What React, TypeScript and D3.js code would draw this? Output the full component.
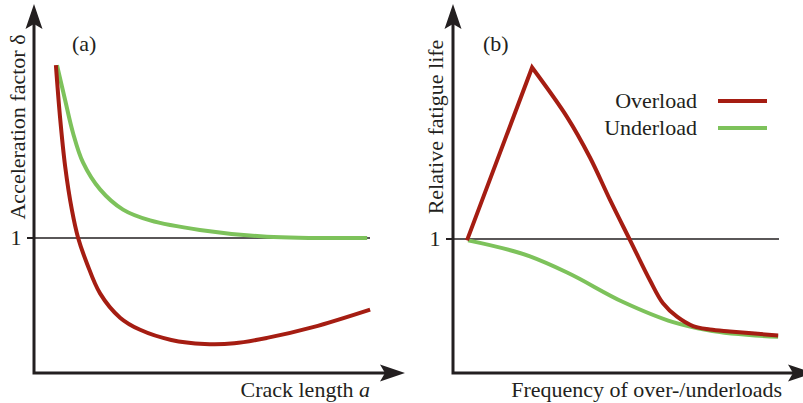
import React from "react";
import * as d3 from "d3";

// panel (a): acceleration factor vs crack length
const crackX_over = [0.59, 0.7, 0.84, 1.02, 1.19, 1.43, 1.78, 2.32, 2.86, 3.7, 4.6, 5.4, 6.28, 7.52, 9.06];
const delta_over = [2.28, 1.9, 1.53, 1.21, 1.0, 0.81, 0.59, 0.41, 0.32, 0.245, 0.215, 0.22, 0.26, 0.34, 0.47];
const crackX_under = [0.62, 0.84, 1.05, 1.32, 1.78, 2.4, 3.13, 4.47, 6.28, 8.98];
const delta_under = [2.28, 2.02, 1.78, 1.56, 1.36, 1.21, 1.13, 1.06, 1.01, 1.0];

// panel (b): relative fatigue life vs frequency
const freq_over = [0.4, 2.26, 3.26, 3.91, 4.49, 5.06, 5.63, 6.0, 6.4, 6.86, 7.34, 7.91, 9.29];
const life_over = [0.99, 2.28, 1.91, 1.61, 1.29, 0.99, 0.69, 0.52, 0.42, 0.35, 0.325, 0.31, 0.28];
const freq_under = [0.43, 2.2, 3.26, 4.86, 6.29, 7.26, 9.29];
const life_under = [0.99, 0.87, 0.75, 0.53, 0.38, 0.32, 0.27];

const legendLabels = ["Overload", "Underload"];
const yTicks = [1];

const RED = "#a51d12";
const GREEN = "#7dc25b";
const INK = "#231f20";
const FONT = "'Liberation Serif', 'DejaVu Serif', serif";
const FS = 22;

type Pt = [number, number];
const zip = (xs: number[], ys: number[]): Pt[] => xs.map((x, i) => [x, ys[i]]);

function Axes({ x0, y0, xTip, yTip }: { x0: number; y0: number; xTip: number; yTip: number }) {
  return (
    <g>
      <path d={`M${x0},${yTip + 20} L${x0},${y0} L${xTip - 20},${y0}`} fill="none" stroke={INK} strokeWidth={3} />
      {/* y arrow */}
      <polygon points={`${x0},${yTip} ${x0 + 8.5},${yTip + 25} ${x0},${yTip + 20} ${x0 - 8.5},${yTip + 25}`} fill={INK} />
      {/* x arrow */}
      <polygon points={`${xTip},${y0} ${xTip - 25},${y0 + 8.5} ${xTip - 20},${y0} ${xTip - 25},${y0 - 8.5}`} fill={INK} />
    </g>
  );
}

function Panel(props: {
  left: number;
  xEnd: number;
  oneY: number;
  refEnd: number;
  over: Pt[];
  under: Pt[];
  overCurve: d3.CurveFactory;
  underCurve: d3.CurveFactory;
  sharpPeak?: boolean;
  tag: string;
  tagX: number;
  yLabel: string;
  yLabelX: number;
  xLabel: React.ReactNode;
  xLabelX: number;
  xTip: number;
}) {
  const y0 = 373;
  const x = d3.scaleLinear().domain([0, 10]).range([props.left, props.xEnd]);
  const y = d3.scaleLinear().domain([0, 1]).range([y0, props.oneY]);
  const lineOver = d3.line<Pt>().x((d) => x(d[0])).y((d) => y(d[1])).curve(props.overCurve);
  const lineUnder = d3.line<Pt>().x((d) => x(d[0])).y((d) => y(d[1])).curve(props.underCurve);

  let overPath = lineOver(props.over) || "";
  if (props.sharpPeak) {
    // straight rise to the peak, smooth fall afterwards, one continuous path
    const k = d3.maxIndex(props.over, (d) => d[1]);
    const rise = d3.line<Pt>().x((d) => x(d[0])).y((d) => y(d[1]))(props.over.slice(0, k + 1)) || "";
    const fall = lineOver(props.over.slice(k)) || "";
    overPath = rise + "L" + fall.slice(1);
  }

  return (
    <g>
      {yTicks.map((t) => (
        <g key={t}>
          <line x1={props.left} x2={props.refEnd} y1={y(t)} y2={y(t)} stroke={INK} strokeWidth={1.3} />
          <line x1={props.left - 7} x2={props.left} y1={y(t)} y2={y(t)} stroke={INK} strokeWidth={2} />
          <text x={props.left - 18} y={y(t) + 7} textAnchor="middle" fontSize={FS} fill={INK} fontFamily={FONT}>
            {t}
          </text>
        </g>
      ))}
      <path d={lineUnder(props.under) || ""} fill="none" stroke={GREEN} strokeWidth={4} />
      <path d={overPath} fill="none" stroke={RED} strokeWidth={4} strokeLinejoin="miter" />
      <Axes x0={props.left} y0={y0} xTip={props.xTip} yTip={4} />
      <text x={props.tagX} y={51} fontSize={FS} fill={INK} fontFamily={FONT}>
        {props.tag}
      </text>
      <text
        transform={`translate(${props.yLabelX},127) rotate(-90)`}
        textAnchor="middle"
        fontSize={FS}
        fill={INK}
        fontFamily={FONT}
      >
        {props.yLabel}
      </text>
      <text x={props.xLabelX} y={397} textAnchor="end" fontSize={FS} fill={INK} fontFamily={FONT}>
        {props.xLabel}
      </text>
    </g>
  );
}

export default function App() {
  const legendY = d3.scalePoint<string>().domain(legendLabels).range([101, 128]);
  const colors = [RED, GREEN];
  return (
    <svg width={803} height={403} style={{ position: "absolute", left: 0, top: 0, background: "#fff" }}>
      <Panel
        left={34}
        xEnd={405}
        oneY={238}
        refEnd={370}
        over={zip(crackX_over, delta_over)}
        under={zip(crackX_under, delta_under)}
        overCurve={d3.curveCatmullRom.alpha(0.5)}
        underCurve={d3.curveCatmullRom.alpha(0.5)}
        tag="(a)"
        tagX={72}
        yLabel="Acceleration factor δ"
        yLabelX={25}
        xLabel={
          <>
            Crack length <tspan fontStyle="italic">a</tspan>
          </>
        }
        xLabelX={370}
        xTip={405}
      />
      <Panel
        left={453}
        xEnd={803}
        oneY={239}
        refEnd={779}
        over={zip(freq_over, life_over)}
        under={zip(freq_under, life_under)}
        overCurve={d3.curveCatmullRom.alpha(0.5)}
        underCurve={d3.curveMonotoneX}
        sharpPeak
        tag="(b)"
        tagX={483}
        yLabel="Relative fatigue life"
        yLabelX={443}
        xLabel="Frequency of over-/underloads"
        xLabelX={782}
        xTip={813}
      />
      {legendLabels.map((l, i) => (
        <g key={l}>
          <text x={697} y={(legendY(l) || 0) + 7} textAnchor="end" fontSize={FS} fill={INK} fontFamily={FONT}>
            {l}
          </text>
          <line x1={718} x2={767} y1={legendY(l)} y2={legendY(l)} stroke={colors[i]} strokeWidth={4} />
        </g>
      ))}
    </svg>
  );
}
